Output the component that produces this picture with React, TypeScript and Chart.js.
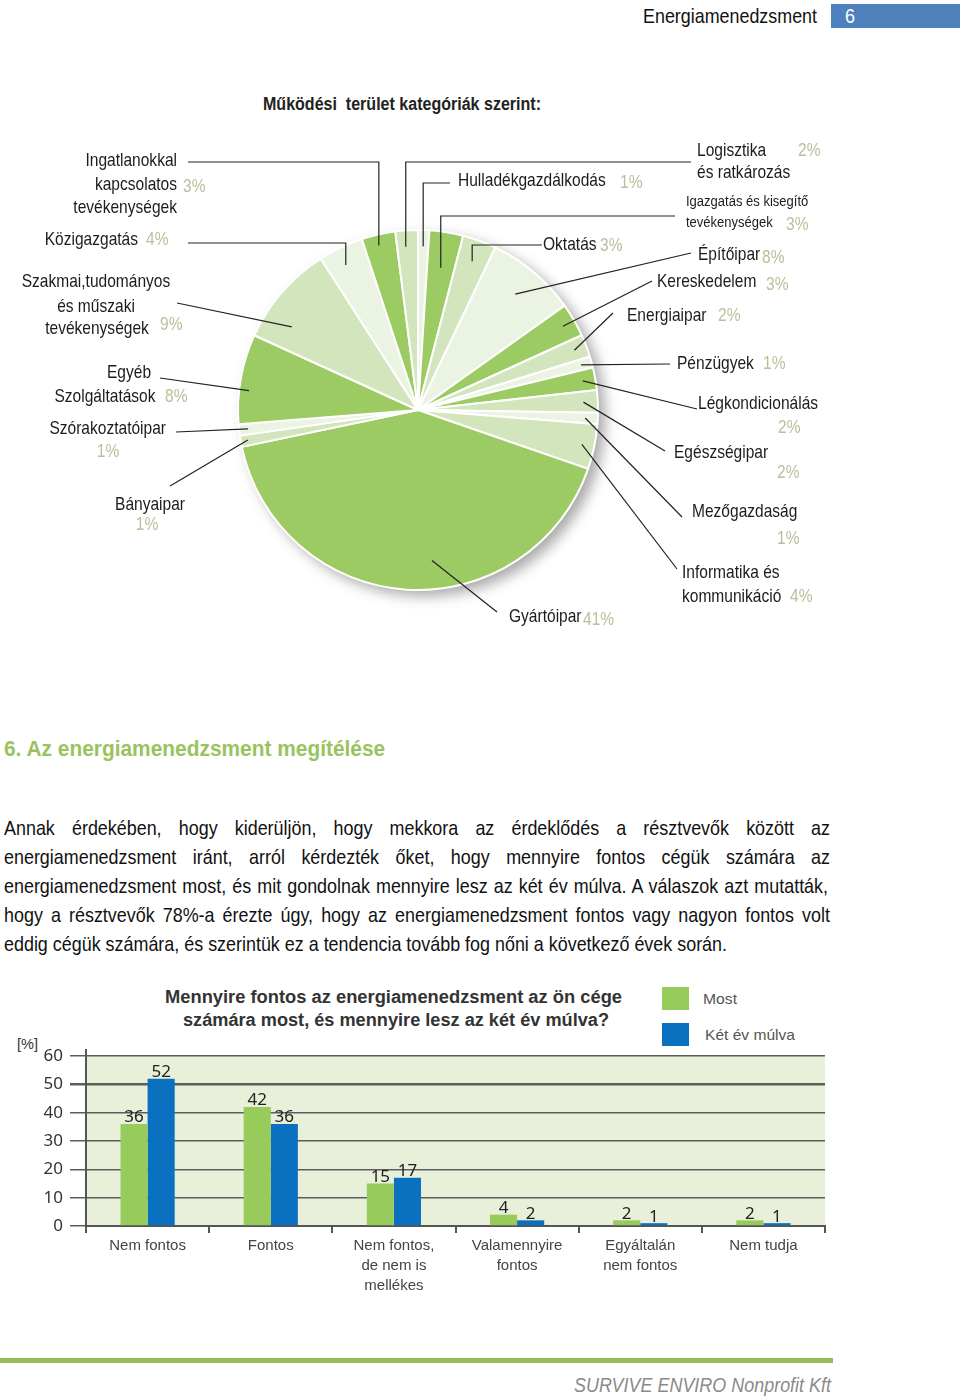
import React, { useEffect, useRef } from "react";
import { Chart, registerables } from "chart.js";
Chart.register(...registerables);

// ---------------- DATA ----------------
// Pie: clockwise from 12 o'clock
const pieLabelLines: string[][] = [
  ["Hulladékgazdálkodás"],
  ["Igazgatás és kisegítő", "tevékenységek"],
  ["Oktatás"],
  ["Építőipar"],
  ["Kereskedelem"],
  ["Energiaipar"],
  ["Pénzügyek"],
  ["Légkondicionálás"],
  ["Egészségipar"],
  ["Mezőgazdaság"],
  ["Informatika és", "kommunikáció"],
  ["Gyártóipar"],
  ["Bányaipar"],
  ["Szórakoztatóipar"],
  ["Egyéb", "Szolgáltatások"],
  ["Szakmai,tudományos", "és műszaki", "tevékenységek"],
  ["Közigazgatás"],
  ["Ingatlanokkal", "kapcsolatos", "tevékenységek"],
  ["Logisztika", "és ratkározás"],
];
const pieCategories = pieLabelLines.map((l) => l.join(" "));
const pieValues = [1, 3, 3, 8, 3, 2, 1, 2, 2, 1, 4, 41, 1, 1, 8, 9, 4, 3, 2];
const pieTitle = "Működési  terület kategóriák szerint:";

// Bar chart
const barCategories: string[][] = [
  ["Nem fontos"],
  ["Fontos"],
  ["Nem fontos,", "de nem is", "mellékes"],
  ["Valamennyire", "fontos"],
  ["Egyáltalán", "nem fontos"],
  ["Nem tudja"],
];
const seriesNames = ["Most", "Két év múlva"];
const mostValues = [36, 42, 15, 4, 2, 2];
const ketEvValues = [52, 36, 17, 2, 1, 1];
const yTicks = [0, 10, 20, 30, 40, 50, 60];
const barTitleLines = [
  "Mennyire fontos az energiamenedzsment az ön cége",
  "számára most, és mennyire lesz az két év múlva?",
];

const paragraphLines = [
  "Annak érdekében, hogy kiderüljön, hogy mekkora az érdeklődés a résztvevők között az",
  "energiamenedzsment iránt, arról kérdezték őket, hogy mennyire fontos cégük számára az",
  "energiamenedzsment most, és mit gondolnak mennyire lesz az két év múlva. A válaszok azt mutatták,",
  "hogy a résztvevők 78%-a érezte úgy, hogy az energiamenedzsment fontos vagy nagyon fontos volt",
  "eddig cégük számára, és szerintük ez a tendencia tovább fog nőni a következő évek során.",
];

// ---------------- STYLES / LAYOUT ----------------
const FAM = '"Liberation Sans", Arial, sans-serif';
const DARK = "#9ccb63";
const LIGHT = "#d3e5bd";
const PALE = "#ebf3e3";
const pieShades = ["p", "d", "l", "p", "d", "l", "p", "d", "l", "p", "l", "d", "l", "p", "d", "l", "p", "d", "l"];
const pieColors = pieShades.map((s) => (s === "d" ? DARK : s === "l" ? LIGHT : PALE));
const PCT_COLOR = "#b5c29a";
const LBL_COLOR = "#1c1c1c";
const PIE_TOP = 80;
const BAR_TOP = 1030;

type Align = "left" | "right" | "center";
type LL = {
  k: number;
  f: number;
  leader: { type: "elbow" | "line"; x: number; y: number };
  lines: { x: number; y: number; align: Align; size?: number }[];
  pct: { x: number; y: number; align: Align };
};
const L = (x: number, y: number, align: Align = "left", size?: number) => ({ x, y, align, size });
const pieLayout: LL[] = [
  { k: 0.91, f: 0.5, leader: { type: "elbow", x: 450, y: 183 }, lines: [L(458, 181)], pct: L(620, 183) },
  { k: 0.8, f: 0.5, leader: { type: "elbow", x: 675, y: 216 }, lines: [L(686, 202, "left", 15.5), L(686, 223, "left", 15.5)], pct: L(786, 225) },
  { k: 0.88, f: 0.5, leader: { type: "elbow", x: 542, y: 245 }, lines: [L(543, 245)], pct: L(600, 246) },
  { k: 0.84, f: 0.5, leader: { type: "line", x: 691, y: 253 }, lines: [L(698, 255)], pct: L(762, 258) },
  { k: 0.93, f: 0.5, leader: { type: "line", x: 652, y: 281 }, lines: [L(657, 282)], pct: L(766, 285) },
  { k: 0.93, f: 0.5, leader: { type: "line", x: 613, y: 313 }, lines: [L(627, 316)], pct: L(718, 316) },
  { k: 0.94, f: 0.5, leader: { type: "line", x: 670, y: 364 }, lines: [L(677, 364)], pct: L(763, 364) },
  { k: 0.93, f: 0.5, leader: { type: "line", x: 697, y: 409 }, lines: [L(698, 404)], pct: L(778, 428) },
  { k: 0.92, f: 0.5, leader: { type: "line", x: 665, y: 451 }, lines: [L(674, 453)], pct: L(777, 473) },
  { k: 0.93, f: 0.5, leader: { type: "line", x: 682, y: 517 }, lines: [L(692, 512)], pct: L(777, 539) },
  { k: 0.93, f: 0.5, leader: { type: "line", x: 677, y: 569 }, lines: [L(682, 573), L(682, 597)], pct: L(790, 597) },
  { k: 0.84, f: 0.44, leader: { type: "line", x: 497, y: 612 }, lines: [L(509, 617)], pct: L(583, 620) },
  { k: 0.96, f: 0.5, leader: { type: "line", x: 170, y: 486 }, lines: [L(150, 505, "center")], pct: L(147, 525, "center") },
  { k: 0.95, f: 0.5, leader: { type: "line", x: 176, y: 432 }, lines: [L(166, 429, "right")], pct: L(108, 452, "center") },
  { k: 0.945, f: 0.38, leader: { type: "line", x: 160, y: 378 }, lines: [L(129, 373, "center"), L(105, 397, "center")], pct: L(165, 397) },
  { k: 0.84, f: 0.27, leader: { type: "line", x: 177, y: 303 }, lines: [L(96, 282, "center"), L(96, 307, "center"), L(97, 329, "center")], pct: L(160, 325) },
  { k: 0.9, f: 0.43, leader: { type: "elbow", x: 188, y: 243 }, lines: [L(138, 240, "right")], pct: L(146, 240) },
  { k: 0.94, f: 0.44, leader: { type: "elbow", x: 188, y: 162 }, lines: [L(177, 161, "right"), L(177, 185, "right"), L(177, 208, "right")], pct: L(183, 187) },
  { k: 0.91, f: 0.41, leader: { type: "elbow", x: 691, y: 162 }, lines: [L(697, 151), L(697, 173)], pct: L(798, 151) },
];

// ---------------- HELPERS ----------------
let mctx: CanvasRenderingContext2D | null = null;
function measure(text: string, font: string) {
  if (!mctx) mctx = document.createElement("canvas").getContext("2d");
  mctx!.font = font;
  return mctx!.measureText(text).width;
}

function drawNarrow(ctx: CanvasRenderingContext2D, text: string, x: number, y: number, size: number, align: Align, color: string, sx = 0.84) {
  ctx.save();
  ctx.translate(x, y);
  ctx.scale(sx, 1);
  ctx.font = `${size}px ${FAM}`;
  ctx.fillStyle = color;
  ctx.textAlign = align;
  ctx.textBaseline = "middle";
  ctx.fillText(text, 0, 0);
  ctx.restore();
}

type TxtProps = { x: number; y: number; w: number; size: number; text: string; weight?: number; italic?: boolean; color?: string };
function Txt({ x, y, w, size, text, weight = 400, italic = false, color = "#111" }: TxtProps) {
  const font = `${italic ? "italic " : ""}${weight} ${size}px ${FAM}`;
  const nat = measure(text, font);
  const s = w / nat;
  return (
    <div
      style={{
        position: "absolute",
        left: x,
        top: y - size * 0.62,
        whiteSpace: "pre",
        font,
        color,
        lineHeight: `${size * 1.2}px`,
        transform: `scaleX(${s})`,
        transformOrigin: "left top",
      }}
    >
      {text}
    </div>
  );
}

function JLine({ x, y, w, size, text, s, justify }: { x: number; y: number; w: number; size: number; text: string; s: number; justify: boolean }) {
  const font = `400 ${size}px ${FAM}`;
  const nat = measure(text, font);
  const spaces = (text.match(/ /g) || []).length;
  const ws = justify && spaces ? (w / s - nat) / spaces : 0;
  return (
    <div
      style={{
        position: "absolute",
        left: x,
        top: y - size * 0.62,
        whiteSpace: "pre",
        font,
        color: "#111",
        lineHeight: `${size * 1.2}px`,
        wordSpacing: `${ws}px`,
        transform: `scaleX(${s})`,
        transformOrigin: "left top",
      }}
    >
      {text}
    </div>
  );
}

// ---------------- PLUGINS ----------------
const pieDecor = {
  id: "pieDecor",
  beforeDatasetsDraw(chart: any) {
    const ctx = chart.ctx as CanvasRenderingContext2D;
    const el = chart.getDatasetMeta(0).data[0];
    const { x, y, outerRadius } = el.getProps(["x", "y", "outerRadius"], true);
    ctx.save();
    ctx.shadowColor = "rgba(0,0,0,0.35)";
    ctx.shadowBlur = 14;
    ctx.shadowOffsetX = 7;
    ctx.shadowOffsetY = 6;
    ctx.beginPath();
    ctx.arc(x, y, outerRadius, 0, Math.PI * 2);
    ctx.fillStyle = "#ffffff";
    ctx.fill();
    ctx.restore();
  },
  afterDatasetsDraw(chart: any) {
    const ctx = chart.ctx as CanvasRenderingContext2D;
    const meta = chart.getDatasetMeta(0);
    ctx.save();
    ctx.translate(0, -PIE_TOP);
    pieLayout.forEach((lay, i) => {
      const el = meta.data[i];
      const p = el.getProps(["x", "y", "startAngle", "endAngle", "outerRadius"], true);
      const a = p.startAngle + lay.f * (p.endAngle - p.startAngle);
      const ix = p.x + Math.cos(a) * p.outerRadius * lay.k;
      const iy = p.y + Math.sin(a) * p.outerRadius * lay.k + PIE_TOP;
      ctx.beginPath();
      ctx.strokeStyle = "#222";
      ctx.lineWidth = 1.2;
      ctx.moveTo(ix, iy);
      if (lay.leader.type === "elbow") {
        ctx.lineTo(ix, lay.leader.y);
        ctx.lineTo(lay.leader.x, lay.leader.y);
      } else {
        ctx.lineTo(lay.leader.x, lay.leader.y);
      }
      ctx.stroke();
      lay.lines.forEach((ln, j) => {
        drawNarrow(ctx, pieLabelLines[i][j], ln.x, ln.y, ln.size || 18.5, ln.align, LBL_COLOR);
      });
      drawNarrow(ctx, `${pieValues[i]}%`, lay.pct.x, lay.pct.y, 18.5, lay.pct.align, PCT_COLOR);
    });
    ctx.restore();
  },
};

const barDecor = {
  id: "barDecor",
  beforeDraw(chart: any) {
    const { ctx, chartArea: a } = chart;
    ctx.save();
    ctx.fillStyle = "#e8f0da";
    ctx.fillRect(a.left, a.top, a.right - a.left, a.bottom - a.top);
    ctx.restore();
  },
  afterDatasetsDraw(chart: any) {
    const ctx = chart.ctx as CanvasRenderingContext2D;
    ctx.save();
    ctx.font = `17px "Noto Sans", sans-serif`;
    ctx.fillStyle = "#222";
    ctx.textAlign = "center";
    ctx.textBaseline = "bottom";
    chart.data.datasets.forEach((ds: any, di: number) => {
      const meta = chart.getDatasetMeta(di);
      meta.data.forEach((bar: any, i: number) => {
        ctx.fillText(String(ds.data[i]), bar.x, bar.y + 2);
      });
    });
    ctx.restore();
  },
  afterDraw(chart: any) {
    const { ctx, chartArea: a } = chart;
    ctx.save();
    ctx.strokeStyle = "#555";
    ctx.lineWidth = 2;
    ctx.beginPath();
    ctx.moveTo(a.left, a.top - 7);
    ctx.lineTo(a.left, a.top);
    ctx.stroke();
    ctx.restore();
  },
};

// ---------------- APP ----------------
export default function App() {
  const pieRef = useRef<HTMLCanvasElement>(null);
  const barRef = useRef<HTMLCanvasElement>(null);

  useEffect(() => {
    const pie = new Chart(pieRef.current!, {
      type: "pie",
      data: {
        labels: pieCategories,
        datasets: [{ data: pieValues, backgroundColor: pieColors, borderColor: "#ffffff", borderWidth: 2 }],
      },
      options: {
        responsive: false,
        animation: false,
        events: [],
        layout: { padding: { left: 237, right: 241, top: 149, bottom: 59 } },
        plugins: { legend: { display: false }, tooltip: { enabled: false } },
      },
      plugins: [pieDecor],
    } as any);

    const bar = new Chart(barRef.current!, {
      type: "bar",
      data: {
        labels: barCategories,
        datasets: [
          { label: seriesNames[0], data: mostValues, backgroundColor: "#97cc5c", categoryPercentage: 0.44, barPercentage: 1 },
          { label: seriesNames[1], data: ketEvValues, backgroundColor: "#0a70c0", categoryPercentage: 0.44, barPercentage: 1 },
        ],
      },
      options: {
        responsive: false,
        animation: false,
        events: [],
        layout: { padding: { left: 0, right: 15, top: 26, bottom: 0 } },
        plugins: { legend: { display: false }, tooltip: { enabled: false } },
        scales: {
          x: {
            grid: { drawOnChartArea: false, drawTicks: true, tickLength: 7, color: "#555", lineWidth: 2, offset: true },
            border: { color: "#555", width: 2 },
            ticks: { color: "#444", font: { family: FAM, size: 15, lineHeight: 1.33 }, padding: 3, maxRotation: 0, autoSkip: false },
            afterFit: (s: any) => {
              s.height = 74;
            },
          },
          y: {
            min: 0,
            max: 60,
            afterBuildTicks: (s: any) => {
              s.ticks = yTicks.map((v) => ({ value: v }));
            },
            ticks: { color: "#333", font: { family: '"Noto Sans", sans-serif', size: 17 }, padding: 7 },
            grid: {
              color: "#5c5c5c",
              lineWidth: (c: any) => (c.tick && c.tick.value === 50 ? 2.5 : 1.5),
              tickLength: 16,
              drawTicks: true,
            },
            border: { color: "#555", width: 2 },
            afterFit: (s: any) => {
              s.width = 86;
            },
          },
        },
      },
      plugins: [barDecor],
    } as any);

    return () => {
      pie.destroy();
      bar.destroy();
    };
  }, []);

  const paraSize = 21;
  const lastScale = 723 / measure(paragraphLines[4], `400 ${paraSize}px ${FAM}`);
  const paraY = [828, 857, 886, 915, 944];

  return (
    <div style={{ position: "absolute", left: 0, top: 0, width: 960, height: 1398, background: "#fff", overflow: "hidden" }}>
      {/* header */}
      <Txt x={643} y={16} w={174} size={21} text="Energiamenedzsment" color="#111" />
      <div style={{ position: "absolute", left: 831, top: 4, width: 129, height: 24, background: "#4f81bd" }} />
      <Txt x={845} y={16} w={10} size={21} text="6" color="#ffffff" />

      {/* pie chart */}
      <Txt x={263} y={105} w={278} size={17.5} weight={700} text={pieTitle} color="#222" />
      <canvas ref={pieRef} width={840} height={570} style={{ position: "absolute", left: 0, top: PIE_TOP, width: 840, height: 570 }} />

      {/* heading */}
      <Txt x={4} y={750} w={382} size={22} weight={700} text="6. Az energiamenedzsment megítélése" color="#99c35f" />

      {/* paragraph */}
      {paragraphLines.map((t, i) => (
        <JLine key={i} x={4} y={paraY[i]} w={826} size={paraSize} text={t} s={lastScale} justify={i < 4} />
      ))}

      {/* bar chart title + legend */}
      <Txt x={165} y={998} w={457} size={18} weight={700} text={barTitleLines[0]} color="#333" />
      <Txt x={183} y={1021} w={426} size={18} weight={700} text={barTitleLines[1]} color="#333" />
      <div style={{ position: "absolute", left: 662, top: 987, width: 27, height: 23, background: "#97cc5c" }} />
      <div style={{ position: "absolute", left: 662, top: 1023, width: 27, height: 23, background: "#0a70c0" }} />
      <Txt x={703} y={999} w={34} size={15} text={seriesNames[0]} color="#555" />
      <Txt x={705} y={1035} w={90} size={15} text={seriesNames[1]} color="#555" />
      <Txt x={17} y={1044} w={21} size={15} text="[%]" color="#333" />
      <canvas ref={barRef} width={840} height={270} style={{ position: "absolute", left: 0, top: BAR_TOP, width: 840, height: 270 }} />

      {/* footer */}
      <div style={{ position: "absolute", left: 0, top: 1358, width: 833, height: 5, background: "#9bbb59" }} />
      <Txt x={574} y={1385} w={257} size={21} italic text="SURVIVE ENVIRO Nonprofit Kft" color="#8a8a8a" />
    </div>
  );
}
